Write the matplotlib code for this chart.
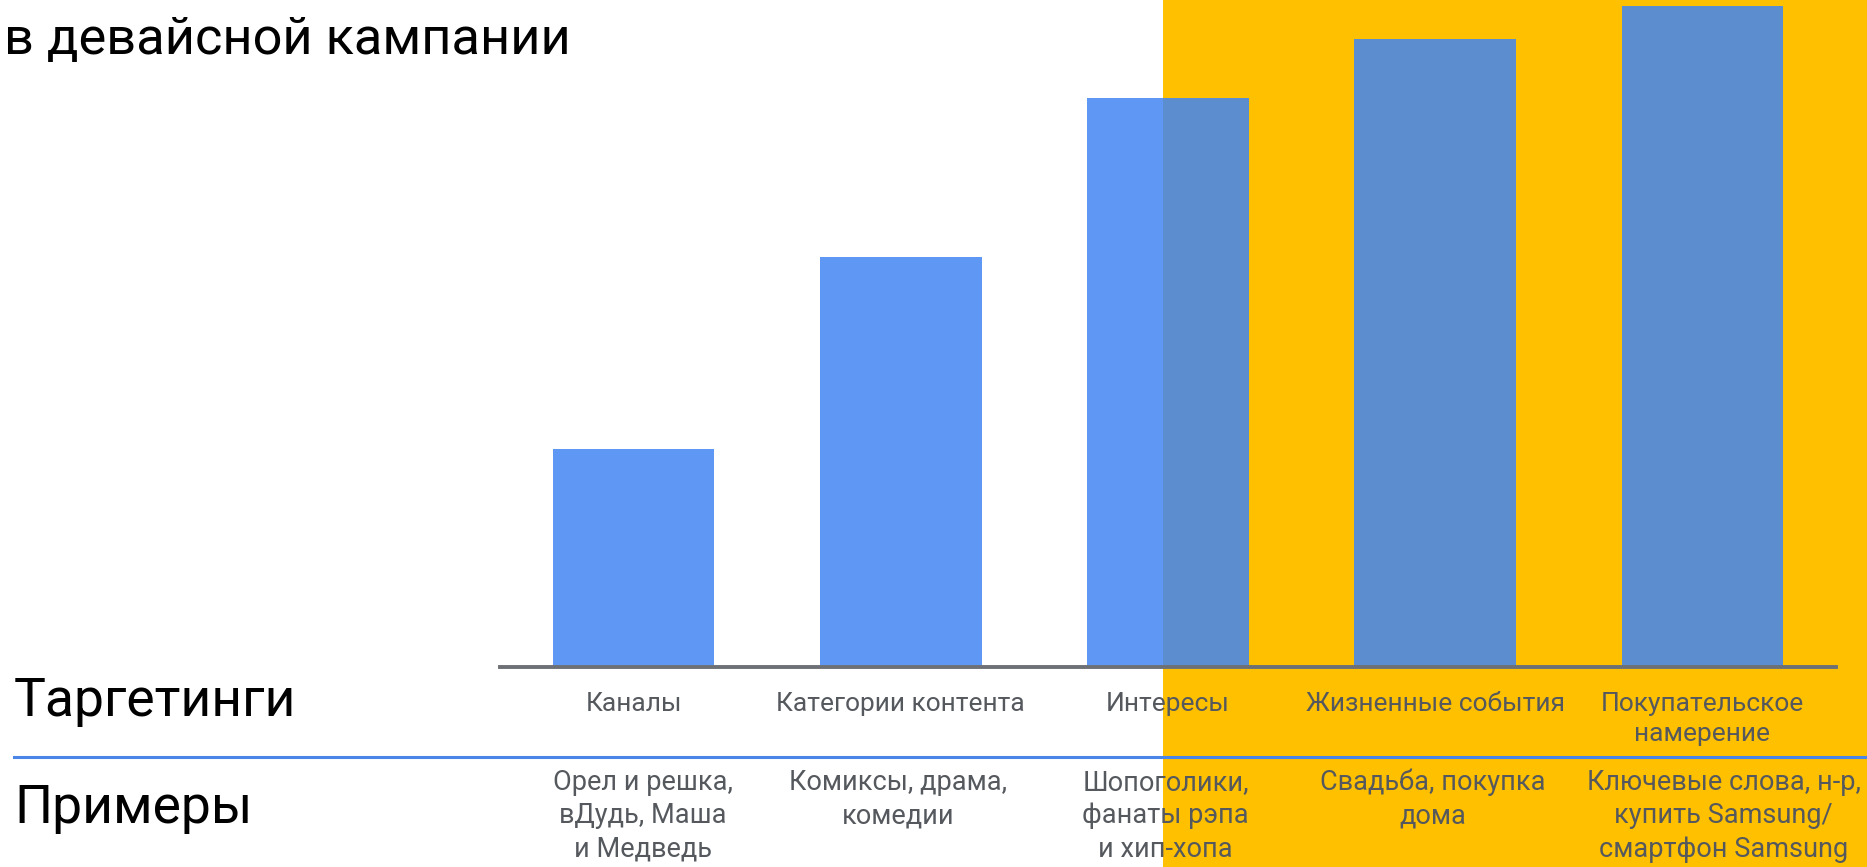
import numpy as np
import matplotlib.pyplot as plt
from matplotlib.patches import Rectangle
from matplotlib.lines import Line2D
import matplotlib.transforms as mtransforms

plt.rcParams['font.family'] = ['Roboto', 'DejaVu Sans']

# data
categories = ["Каналы", "Категории контента", "Интересы",
              "Жизненные события", "Покупательское\nнамерение"]
examples = ["Орел и решка,\nвДудь, Маша\nи Медведь",
            "Комиксы, драма,\nкомедии",
            "Шопоголики,\nфанаты рэпа\nи хип-хопа",
            "Свадьба, покупка\nдома",
            "Ключевые слова, н-р,\nкупить Samsung/\nсмартфон Samsung"]
reach = [33, 62, 86, 95, 100]
highlight_from = 1.98   # yellow zone starts in the middle of "Интересы"

W, H = 1867, 867
fig = plt.figure(figsize=(W / 100, H / 100), dpi=100)
ax = fig.add_axes([500 / W, 1 - 667 / H, 1336 / W, 667 / H])
ax.patch.set_visible(False)

x = np.arange(len(reach))
blue = "#5f97f5"
blue_dark = "#5c8dce"
yellow = "#ffc000"
grey_txt = "#55595e"

# yellow background zone (x in data, y over whole figure)
blend = mtransforms.blended_transform_factory(ax.transData, fig.transFigure)
ax.add_patch(Rectangle((highlight_from, 0), 10, 1, transform=blend,
                       facecolor=yellow, edgecolor="none", clip_on=False, zorder=0))

ax.bar(x, reach, width=0.605, color=blue, zorder=2)
dark = ax.bar(x, reach, width=0.605, color=blue_dark, zorder=3)
clip = Rectangle((highlight_from, -5), 10, 200, transform=ax.transData)
for b in dark:
    b.set_clip_path(clip)

ax.set_xlim(-0.5, 4.5)
ax.set_ylim(0, 100.9)
for s in ["top", "right", "left"]:
    ax.spines[s].set_visible(False)
ax.spines["bottom"].set_color("#6d7176")
ax.spines["bottom"].set_linewidth(2.8)
ax.spines["bottom"].set_zorder(4)
ax.set_xticks([])
ax.set_yticks([])

# labels under the bars (example text boxes are not exactly centred in the original)
ex_shift = [0.035, -0.009, -0.009, -0.009, 0.08]
for i in range(len(categories)):
    ax.text(x[i], 1 - 692 / H, categories[i], transform=blend, ha="center", va="top",
            fontsize=19, color=grey_txt, linespacing=1.33, zorder=5)
    ax.text(x[i] + ex_shift[i], 1 - 769 / H, examples[i], transform=blend, ha="center",
            va="top", fontsize=19.5, color=grey_txt, linespacing=1.3, zorder=5)

# separator line
fig.add_artist(Line2D([14 / W, 1], [1 - 757 / H, 1 - 757 / H], color="#4a86e8",
                      linewidth=2.2, zorder=6))

fig.text(14 / W, 1 - 716 / H, "Таргетинги", fontsize=38.5, va="baseline", color="black")
fig.text(14 / W, 1 - 823 / H, "Примеры", fontsize=38.5, va="baseline", color="black")
fig.text(4 / W, 1 - 54 / H, "в девайсной кампании", fontsize=37.7, va="baseline", color="black")

fig.savefig("out.png", dpi=100)
